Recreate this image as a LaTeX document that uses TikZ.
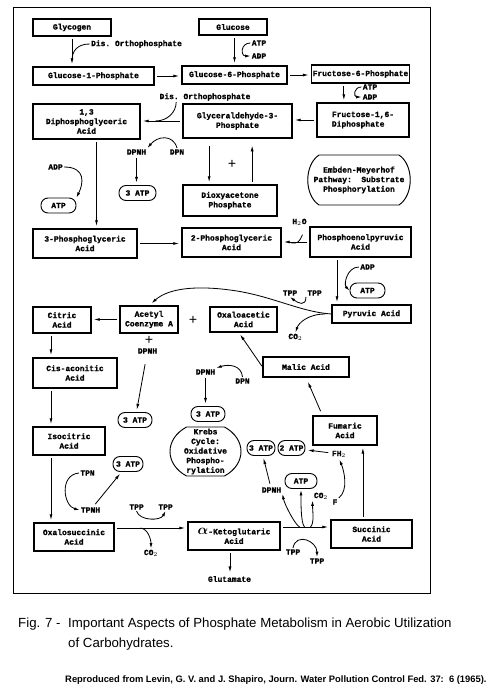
\documentclass[tikz,border=0pt]{standalone}
\usepackage{amsmath,amssymb}
\usepackage{fontspec}
\setmonofont{Liberation Mono}[BoldFeatures={FakeBold=1.2}]
\setsansfont{Liberation Sans}
\usetikzlibrary{arrows.meta,calc}

\begin{document}
\begin{tikzpicture}[x=0.03cm, y=-0.03cm,
  every node/.style={font=\ttfamily\bfseries\fontsize{6.8}{8.2}\selectfont, inner sep=1pt},
  box/.style 2 args={draw, line width=0.9pt, align=center, minimum width=#1, minimum height=#2},
  pill/.style={draw, line width=0.8pt, rounded corners=0.21cm, minimum width=#1, minimum height=0.45cm, inner xsep=0pt},
  pill/.default=1.05cm,
  plus/.style={font=\ttfamily\mdseries\fontsize{12}{12}\selectfont},
  arr/.style={line width=0.7pt, -{Latex[length=5pt,width=2.6pt]}, shorten >=2pt, shorten <=2pt},
  crv/.style={line width=0.7pt, -{Latex[length=4.5pt,width=2.6pt]}},
  ln/.style={line width=0.7pt}]
  \useasboundingbox (0,0) rectangle (494,689);
  \draw[line width=0.8pt] (13,7) rectangle (430,593);

  % glycolysis
  \node[box={2.34cm}{0.51cm}] (glycogen) at (72,27.5) {Glycogen};
  \node[box={2.04cm}{0.48cm}] (glucose) at (233,27) {Glucose};
  \node[box={3.63cm}{0.54cm}] (g1p) at (93.5,76) {Glucose-1-Phosphate};
  \node[box={3.15cm}{0.54cm}] (g6p) at (234.5,75) {Glucose-6-Phosphate};
  \node[box={2.91cm}{0.54cm}] (f6p) at (360.5,74) {Fructose-6-Phosphate};
  \node[box={2.76cm}{1.02cm}, align=left] (f16dp) at (363,120) {Fructose-1,6-\\Diphosphate};
  \node[box={3.27cm}{1.02cm}] (gap) at (237.5,121) {Glyceraldehyde-3-\\Phosphate};
  \node[box={3.21cm}{1.05cm}] (dpg13) at (86.5,121.5) {1,3\\Diphosphoglyceric\\Acid};
  \node[box={2.82cm}{0.93cm}] (dhap) at (230,200.5) {Dioxyacetone\\Phosphate};
  \node[box={2.97cm}{0.87cm}] (pga2) at (231.5,242.5) {2-Phosphoglyceric\\Acid};
  \node[box={3.12cm}{0.87cm}] (pga3) at (85,243.5) {3-Phosphoglyceric\\Acid};
  \node[box={3.03cm}{0.9cm}] (pep) at (360.5,242) {Phosphoenolpyruvic\\Acid};
  \node[box={2.37cm}{0.54cm}] (pyruvic) at (371.5,314) {Pyruvic Acid};
  \node[align=center] (embden) at (359,180) {Embden-Meyerhof\\Pathway:~ Substrate\\Phosphorylation};

  % krebs cycle
  \node[box={2.01cm}{0.75cm}] (oaa) at (243.5,319.5) {Oxaloacetic\\Acid};
  \node[box={1.74cm}{0.81cm}] (acetyl) at (149,319.5) {Acetyl\\Coenzyme A};
  \node[box={1.74cm}{0.78cm}] (citric) at (62,320) {Citric\\Acid};
  \node[box={2.52cm}{0.9cm}] (cisacon) at (75,373) {Cis-aconitic\\Acid};
  \node[box={2.16cm}{0.84cm}] (isocitric) at (69,441) {Isocitric\\Acid};
  \node[box={2.4cm}{0.84cm}] (oxalosucc) at (74,537) {Oxalosuccinic\\Acid};
  \node[box={2.76cm}{0.84cm}] (akg) at (234,536) {{\large$\boldsymbol{\alpha}$}-Ketoglutaric\\Acid};
  \node[box={2.43cm}{0.84cm}] (succinic) at (371.5,534) {Succinic\\Acid};
  \node[box={1.92cm}{0.87cm}] (fumaric) at (345,430.5) {Fumaric\\Acid};
  \node[box={2.58cm}{0.6cm}] (malic) at (306,367) {Malic Acid};
  \node[align=center] (krebs) at (205.5,451.5) {Krebs\\Cycle:\\Oxidative\\Phospho-\\rylation};

  % energy yields
  \node[pill] (atp1) at (58.5,205.5) {ATP};
  \node[pill=1.11cm] (atp2) at (137.5,193) {3 ATP};
  \node[pill] (atp3) at (367.5,290.5) {ATP};
  \node[pill=1.02cm] (atp4) at (135,420) {3 ATP};
  \node[pill=1.02cm] (atp5) at (208,414) {3 ATP};
  \node[pill=0.9cm] (atp6) at (128,464) {3 ATP};
  \node[pill=0.96cm] (atp7) at (301,481) {ATP};
  \node[pill=0.84cm] (atp8) at (261,448) {3 ATP};
  \node[pill=0.81cm] (atp9) at (291.5,448) {2 ATP};

  % labels
  \node (dis1) at (136.5,44) {Dis. Orthophosphate};
  \node (atpg) at (259,43) {ATP};
  \node (adpg) at (259,56) {ADP};
  \node (atpf) at (370,87) {ATP};
  \node (adpf) at (370,97) {ADP};
  \node (dis2) at (205,97) {Dis. Orthophosphate};
  \node (adpk) at (55.5,167) {ADP};
  \node (dpnh1) at (136.5,152) {DPNH};
  \node (dpn1) at (177,152) {DPN};
  \node[plus] (plus1) at (232,164) {+};
  \node (h2o) at (299.5,222) {H$_2$O};
  \node (adpp) at (367.5,267) {ADP};
  \node (tpp1) at (290,293) {TPP};
  \node (tpp2) at (314.5,293) {TPP};
  \node (co2a) at (295.5,337) {CO$_2$};
  \node[plus] (plus2) at (193,320) {+};
  \node[plus] (plus3) at (149,340) {+};
  \node (dpnh2) at (147.5,351) {DPNH};
  \node (dpnh3) at (205.5,372) {DPNH};
  \node (dpn3) at (242.5,381) {DPN};
  \node (tpn) at (87.5,473) {TPN};
  \node (tpnh) at (90.5,510) {TPNH};
  \node (tpp3) at (136.5,507) {TPP};
  \node (tpp4) at (165.5,507) {TPP};
  \node (co2b) at (151,553) {CO$_2$};
  \node (glutamate) at (229.5,579) {Glutamate};
  \node (dpnh4) at (271.5,490) {DPNH};
  \node (co2c) at (321,496) {CO$_2$};
  \node (fh2) at (339,454) {FH$_2$};
  \node (f) at (335,502) {F};
  \node (tpp5) at (293,552) {TPP};
  \node (tpp6) at (317,561) {TPP};

  % barrels
  \draw[line width=0.8pt] ($(embden)+(-40,-25)$) -- ($(embden)+(40,-25)$)
    .. controls +(15,10) and +(15,-10) .. ($(embden)+(40,25)$) -- ($(embden)+(-40,25)$)
    .. controls +(-15,-10) and +(-15,10) .. cycle;
  \draw[line width=0.8pt] ($(krebs)+(-19,-24.5)$) -- ($(krebs)+(19,-24.5)$)
    .. controls +(22,12) and +(22,-12) .. ($(krebs)+(19,24.5)$) -- ($(krebs)+(-19,24.5)$)
    .. controls +(-22,-12) and +(-22,12) .. cycle;

  % helper points
  \coordinate (v1) at ([xshift=-0.5cm]f6p.south);
  \coordinate (v2) at ([xshift=0.3cm]dpg13.south);
  \coordinate (v3) at ([xshift=-0.85cm]gap.south);
  \coordinate (v4) at ([xshift=0.44cm]gap.south);
  \coordinate (v5) at ([xshift=-0.705cm]pep.south);
  \coordinate (v6) at ([xshift=-0.33cm]citric.south);
  \coordinate (v7) at ([xshift=-0.72cm]cisacon.south);
  \coordinate (v8) at ([xshift=-0.54cm]isocitric.south);
  \coordinate (v9) at ([xshift=-0.12cm]akg.south);
  \coordinate (v10) at ($(fumaric.north west)+(10,0)$);
  \coordinate (h1) at ([yshift=0.27cm]oxalosucc.east);
  \coordinate (h2) at ([yshift=0.27cm]akg.east);
  \coordinate (k1) at ($(glycogen.south)+(0,24)$);
  \coordinate (k2) at ($(gap.west)+(-27,0)$);
  \coordinate (k3) at ($(pep.west)+(-18,1)$);
  \coordinate (k4) at ($(h2o.south)+(3,8)$);
  \coordinate (k5) at ($(pyruvic.west)+(-6,0)$);
  \coordinate (k6) at ($(h1)+(26,0)$);
  \coordinate (j1) at ($(h2)+(19,0)$);
  \coordinate (j2) at ($(h2)+(24,0)$);
  \coordinate (j3) at ($(h2)+(30,0)$);
  \coordinate (d2) at ($(dis2.south west)+(18,0)$);

  % glycolysis arrows
  \draw[arr] (glycogen.south) -- (glycogen.south |- g1p.north);
  \draw[ln] (dis1.west) .. controls +(-12,0) and +(0,-10) .. (k1);
  \draw[arr] (glucose.south -| g6p.north) -- (g6p.north);
  \draw[crv] (atpg.west) .. controls +(-10,0) and +(-10,0) .. (adpg.west);
  \draw[arr] (g1p.east) -- (g1p.east -| g6p.west);
  \draw[arr] (g6p.east) -- (g6p.east -| f6p.west);
  \draw[arr] (v1) -- (v1 |- f16dp.north);
  \draw[crv] (atpf.west) .. controls +(-8,0) and +(-8,0) .. (adpf.west);
  \draw[arr] (f16dp.west) -- (f16dp.west -| gap.east);
  \draw[arr] (gap.west) -- (gap.west -| dpg13.east);
  \draw[ln] (d2) .. controls +(0,10) and +(12,0) .. (k2);
  \draw[arr, shorten <=6pt] (v3) -- (v3 |- dhap.north);
  \draw[arr, shorten >=6pt] (v4 |- dhap.north) -- (v4);
  \draw[crv] (dpn1.north) .. controls +(-4,-14) and +(10,-12) .. (dpnh1.north east);
  \draw[arr] (dpnh1.south) -- (dpnh1.south |- atp2.north);
  \draw[arr] (v2) -- (v2 |- pga3.north);
  \draw[crv] (adpk.east) .. controls +(22,0) and +(7,-14) .. (atp1.north east);
  \draw[arr] (pga3.east) -- (pga3.east -| pga2.west);
  \draw[arr] (pep.west) -- (pep.west -| pga2.east);
  \draw[ln] (k3) .. controls +(7,0) .. (k4);
  \draw[arr] (v5) -- (v5 |- pyruvic.north);
  \draw[crv] (adpp.west) .. controls +(-12,0) and +(-6,-6) .. (atp3.west);

  % pyruvic acid to acetyl coenzyme A
  \draw[crv, shorten >=3pt] (pyruvic.west) .. controls (300,312) and (270,295) .. (230,290)
    .. controls (200,286) and (170,287) .. (acetyl.north);
  \draw[crv] (tpp2.south west) .. controls +(0,10) and +(8,6) .. (tpp1.south);
  \draw[crv] (k5) .. controls +(-18,0) and +(3,-9) .. (co2a.north);
  \draw[arr, shorten <=8pt] (dpnh2) -- (atp4);

  % krebs cycle arrows
  \draw[arr] (acetyl.west) -- (acetyl.west -| citric.east);
  \draw[arr] (v6) -- (v6 |- cisacon.north);
  \draw[arr] (v7) -- (v7 |- isocitric.north);
  \draw[arr] (v8) -- (v8 |- oxalosucc.north);
  \draw[crv] (tpn.west) .. controls +(-20,2) and +(-16,-4) .. (tpnh.west);
  \draw[arr] (tpnh) -- (atp6);
  \draw[arr] (h1) -- (h1 -| akg.west);
  \draw[crv] (tpp3.south) .. controls +(3,10) and +(-5,10) .. (tpp4.south);
  \draw[crv] (k6) .. controls +(8,1) and +(0,-8) .. (co2b.north);
  \draw[arr] (v9) -- (v9 |- glutamate.north);
  \draw[arr] (h2) -- (h2 -| succinic.west);
  \draw[crv] (j1) .. controls +(-5,-3) and +(2,10) .. (dpnh4.south east);
  \draw[crv, shorten >=1pt] (j2) .. controls +(-4,-4) and +(0,10) .. (atp7.south);
  \draw[crv] (j3) .. controls +(4,-4) and +(0,10) .. (co2c.south west);
  \draw[crv] (tpp5.north) .. controls +(3,-16) and +(0,-16) .. (tpp6.north);
  \draw[arr] (dpnh4) -- (atp8);
  \draw[arr] (fh2) -- (atp9);
  \draw[crv, shorten >=1pt] (f.north east) .. controls +(10,-8) and +(5,12) .. (fh2.south);
  \draw[arr] (succinic.north -| fumaric.-40) -- (fumaric.-40);
  \draw[arr, shorten <=4pt, shorten >=4pt] (v10) -- (malic.south);
  \draw[arr, shorten <=1pt] (malic.west) -- (oaa.250);
  \draw[crv] (dpn3.north) .. controls +(-1,-12) and +(12,-4) .. (dpnh3.north east);
  \draw[arr] (dpnh3.south) -- (dpnh3.south |- atp5.north);

  % caption
  \node[anchor=base west, inner sep=0pt, font=\sffamily\fontsize{11.3}{13}\selectfont] (fig) at (18,627) {Fig. 7 -};
  \node[anchor=base west, inner sep=0pt, font=\sffamily\fontsize{11.3}{13}\selectfont] (cap1) at (68,627) {Important Aspects of Phosphate Metabolism in Aerobic Utilization};
  \node[anchor=base west, inner sep=0pt, font=\sffamily\fontsize{11.3}{13}\selectfont] (cap2) at (68,647) {of Carbohydrates.};
  \node[anchor=base west, inner sep=0pt, font=\sffamily\bfseries\fontsize{8}{9}\selectfont] (source) at (65,682) {Reproduced from Levin, G. V. and J. Shapiro, Journ. Water Pollution Control Fed. 37:\ \ 6 (1965).};
\end{tikzpicture}
\end{document}
